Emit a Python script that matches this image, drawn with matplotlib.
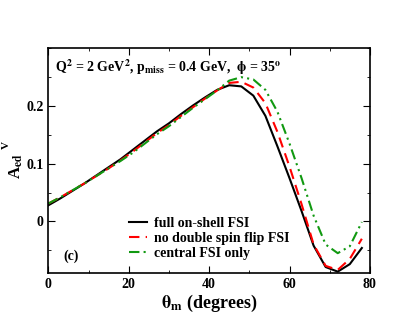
import numpy as np
import matplotlib
matplotlib.use("Agg")
import matplotlib.pyplot as plt
from matplotlib.ticker import MultipleLocator

theta = np.arange(0, 79, 3)

full_fsi = [0.028, 0.040, 0.053, 0.066, 0.080, 0.094, 0.108, 0.124, 0.140,
            0.156, 0.170, 0.186, 0.201, 0.215, 0.228, 0.236, 0.234, 0.218,
            0.183, 0.130, 0.075, 0.018, -0.042, -0.079, -0.087, -0.074, -0.046]
no_dsf = [0.031, 0.042, 0.054, 0.066, 0.079, 0.092, 0.106, 0.121, 0.137,
          0.153, 0.167, 0.183, 0.198, 0.213, 0.227, 0.240, 0.242, 0.232,
          0.205, 0.155, 0.095, 0.030, -0.040, -0.077, -0.084, -0.065, -0.030]
central = [0.031, 0.042, 0.054, 0.066, 0.079, 0.092, 0.105, 0.119, 0.135,
           0.151, 0.165, 0.181, 0.197, 0.212, 0.227, 0.244, 0.250, 0.246,
           0.228, 0.190, 0.135, 0.075, 0.010, -0.040, -0.055, -0.043, -0.001]

labels = ["full on-shell FSI", "no double spin flip FSI", "central FSI only"]
xticks = [0, 20, 40, 60, 80]
yticks = [0, 0.1, 0.2]
yticklabels = ["0", "0.1", "0.2"]

plt.rcParams["font.family"] = ["Liberation Serif", "DejaVu Serif"]
plt.rcParams["font.weight"] = "bold"
plt.rcParams["mathtext.fontset"] = "stix"
plt.rcParams["mathtext.default"] = "bf"

fig = plt.figure(figsize=(4.17, 3.22), dpi=100)
ax = fig.add_axes([0.116, 0.151, 0.771, 0.699])

ax.plot(theta, full_fsi, color="black", lw=1.5, label=labels[0])
ax.plot(theta, no_dsf, color="red", lw=1.5, dashes=(5, 3), label=labels[1])
ax.plot(theta, central, color="#119911", lw=1.5, dashes=(5, 2, 1, 2, 1, 2), label=labels[2])

ax.set_xlim(0, 80)
ax.set_ylim(-0.09, 0.30)
ax.set_xticks(xticks)
ax.set_xticklabels([str(t) for t in xticks])
ax.xaxis.set_minor_locator(MultipleLocator(10))
ax.set_yticks(yticks)
ax.set_yticklabels(yticklabels)
ax.yaxis.set_minor_locator(MultipleLocator(0.05))
ax.tick_params(which="both", direction="in", top=True, right=True, labelsize=10)
ax.tick_params(which="major", length=5)
ax.tick_params(which="minor", length=2.5)
for s in ax.spines.values():
    s.set_linewidth(1.2)

ax.set_xlabel(r"$\theta_{\mathbf{m}}$ (degrees)", fontsize=13, fontweight="bold", labelpad=1)

# y label: A with subscript ed, superscript V placed high
ax.text(-0.100, 0.475, r"A$_{\mathbf{ed}}$", transform=ax.transAxes, rotation=90,
        fontsize=12, fontweight="bold", ha="center", va="center")
ax.text(-0.130, 0.57, "V", transform=ax.transAxes, rotation=90,
        fontsize=8, fontweight="bold", ha="center", va="center")

ax.text(0.021, 0.895, r"Q$^2$ = 2 GeV$^2$, p$_{\mathbf{miss}}$ = 0.4 GeV,  $\phi$ = 35$^o$",
        transform=ax.transAxes, fontsize=10, fontweight="bold")
ax.text(0.046, 0.077, "(c)", transform=ax.transAxes, fontsize=10,
        fontweight="bold", va="center")

ax.legend(loc="lower left", bbox_to_anchor=(0.22, 0.015), frameon=False,
          fontsize=10, handlelength=1.3, handletextpad=0.5, labelspacing=0.15,
          borderpad=0.2)

fig.savefig("out.png", dpi=100)
